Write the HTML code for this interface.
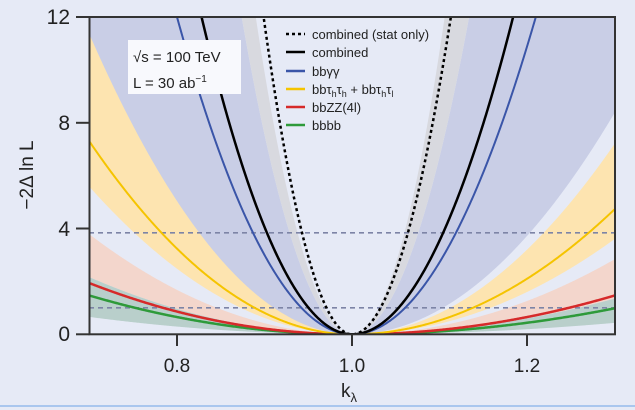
<!DOCTYPE html>
<html><head><meta charset="utf-8"><style>
html,body{margin:0;padding:0;background:#e6eaf6;}
svg{display:block;font-family:"Liberation Sans",sans-serif;}
</style></head><body>
<svg id="s" width="635" height="410" viewBox="0 0 635 410" xmlns="http://www.w3.org/2000/svg">
<rect width="635" height="410" fill="#e6eaf6"/>
<defs><clipPath id="c"><rect x="89.5" y="17" width="525.5" height="317.3"/></clipPath></defs>
<g id="plot" clip-path="url(#c)"></g>
<line x1="0" y1="406" x2="635" y2="406" stroke="#a9c6ee" stroke-width="2"/>
<rect x="89.5" y="17" width="525.5" height="317.3" fill="none" stroke="#333" stroke-width="2"/>
<g stroke="#333" stroke-width="2">
<line x1="76" y1="17" x2="89.5" y2="17"/><line x1="76" y1="122.8" x2="89.5" y2="122.8"/>
<line x1="76" y1="228.5" x2="89.5" y2="228.5"/><line x1="76" y1="334.3" x2="89.5" y2="334.3"/>
<line x1="177" y1="334" x2="177" y2="346"/><line x1="352" y1="334" x2="352" y2="346"/><line x1="527" y1="334" x2="527" y2="346"/>
</g>
<g font-size="21" fill="#222" text-anchor="end">
<text x="70" y="24">12</text><text x="70" y="130">8</text><text x="70" y="236">4</text><text x="70" y="341">0</text>
</g>
<g font-size="19" fill="#222" text-anchor="middle">
<text x="177" y="372">0.8</text><text x="352" y="372">1.0</text><text x="527" y="372">1.2</text>
<text x="349" y="397">k<tspan font-size="13" dy="5">λ</tspan></text>
</g>
<text transform="translate(33,175) rotate(-90)" font-size="19" fill="#222" text-anchor="middle">−2Δ ln L</text>
<rect x="128" y="40" width="113" height="54" fill="#f8f9fd"/>
<g font-size="15" fill="#222">
<text x="133" y="62">√s = 100 TeV</text>
<text x="133" y="88">L = 30 ab<tspan font-size="10" dy="-6">−1</tspan></text>
</g>
<g stroke-width="2.5">
<line x1="286" y1="34" x2="305" y2="34" stroke="#000" stroke-dasharray="3,3"/>
<line x1="286" y1="52" x2="305" y2="52" stroke="#000"/>
<line x1="286" y1="71" x2="305" y2="71" stroke="#3a55a8"/>
<line x1="286" y1="89" x2="305" y2="89" stroke="#f5c400"/>
<line x1="286" y1="107" x2="305" y2="107" stroke="#d62a2a"/>
<line x1="286" y1="125" x2="305" y2="125" stroke="#2e9a3a"/>
</g>
<g font-size="13" fill="#222">
<text x="312" y="39">combined (stat only)</text>
<text x="312" y="57">combined</text>
<text x="312" y="76">bbγγ</text>
<text x="312" y="94">bbτ<tspan font-size="9" dy="3">h</tspan><tspan dy="-3">τ</tspan><tspan font-size="9" dy="3">h</tspan><tspan dy="-3"> + bbτ</tspan><tspan font-size="9" dy="3">h</tspan><tspan dy="-3">τ</tspan><tspan font-size="9" dy="3">l</tspan></text>
<text x="312" y="112">bbZZ(4l)</text>
<text x="312" y="130">bbbb</text>
</g>
<script>
(function(){
var g=document.getElementById('plot');
function X(k){return 89.5+(k-0.7)*875;}
function Y(v){return 334.3-v*26.44;}
function f(aL,aR,k){var d=k-1;return (d<0?aL:aR)*d*d;}
function pts(aL,aR,rev){var a=[];for(var i=0;i<=600;i++){var k=0.7+i*0.001;var v=Math.min(f(aL,aR,k),14);a.push(X(k).toFixed(2)+','+Y(v).toFixed(2));}if(rev)a.reverse();return a;}
function band(lL,lR,hL,hR,col){var p=document.createElementNS('http://www.w3.org/2000/svg','polygon');p.setAttribute('points',pts(hL,hR).concat(pts(lL,lR,true)).join(' '));p.setAttribute('fill',col);g.appendChild(p);}
function line(aL,aR,col,w,dash){var p=document.createElementNS('http://www.w3.org/2000/svg','polyline');p.setAttribute('points',pts(aL,aR).join(' '));p.setAttribute('fill','none');p.setAttribute('stroke',col);p.setAttribute('stroke-width',w);if(dash)p.setAttribute('stroke-dasharray',dash);g.appendChild(p);}
function hl(v){var p=document.createElementNS('http://www.w3.org/2000/svg','line');p.setAttribute('x1',89);p.setAttribute('x2',615);p.setAttribute('y1',Y(v));p.setAttribute('y2',Y(v));p.setAttribute('stroke','#7d84a6');p.setAttribute('stroke-width','1.6');p.setAttribute('stroke-dasharray','5,4');g.appendChild(p);}
band(120,93,755,670,'#c9cee6');
band(755,670,992,1070,'#d8d9df');
band(62,40,126,80,'#fde4b0');
band(24,15,42,31.5,'#f3d6cc');
band(7.3,4.8,24,15,'#b9cfcb');
hl(3.84);hl(1);
line(16.3,10.9,'#2e9a3a',2.5);
line(21.5,16.3,'#d62a2a',2.5);
line(81,52.5,'#f5c400',2);
line(300,272,'#3a55a8',2);
line(406,354,'#000',2.5);
line(1176,940,'#000',2.5,'3,3');
})();
</script>
</svg>
</body></html>
